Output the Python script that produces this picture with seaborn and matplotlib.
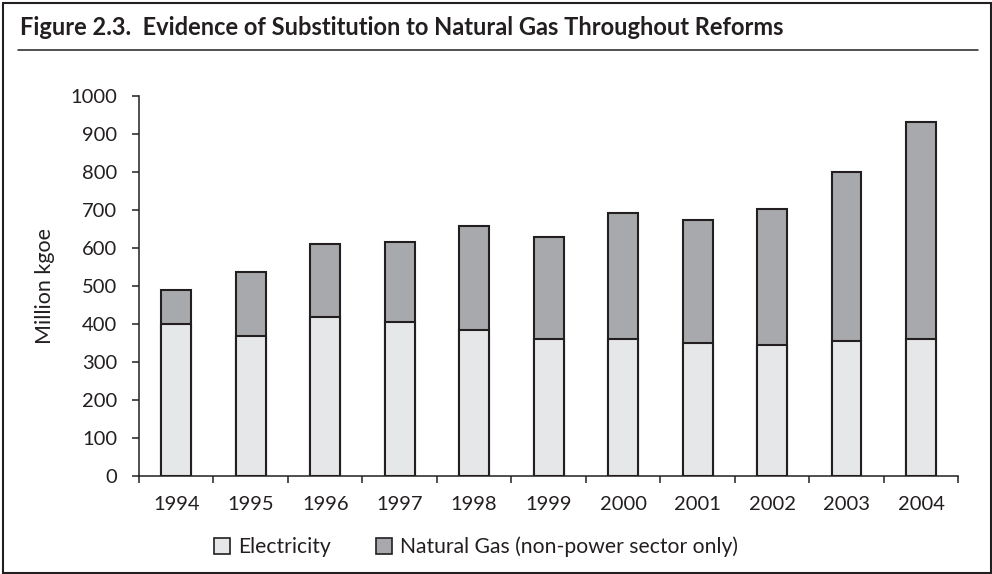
import matplotlib
matplotlib.use("Agg")
import matplotlib.pyplot as plt
import seaborn as sns
import pandas as pd
from matplotlib.patches import Patch, Rectangle
from matplotlib.lines import Line2D
from matplotlib.ticker import FixedLocator

# values (million kgoe)
years = ["1994", "1995", "1996", "1997", "1998", "1999", "2000", "2001", "2002", "2003", "2004"]
electricity = [398, 368, 418, 404, 383, 359, 359, 348, 344, 354, 359]
natural_gas = [92, 167, 191, 210, 275, 269, 332, 324, 358, 446, 572]

series_names = ["Electricity", "Natural Gas (non-power sector only)"]
yticks = [0, 100, 200, 300, 400, 500, 600, 700, 800, 900, 1000]

title = "Figure 2.3.  Evidence of Substitution to Natural Gas Throughout Reforms"

elec_color = "#e6e7e8"
gas_color = "#a7a9ac"
edge_color = "#231f20"

sns.set_style("ticks")
plt.rcParams["font.family"] = ["Lato", "DejaVu Sans"]
plt.rcParams["text.color"] = edge_color
plt.rcParams["axes.labelcolor"] = edge_color
plt.rcParams["xtick.color"] = edge_color
plt.rcParams["ytick.color"] = edge_color

df = pd.DataFrame({"year": years, "Electricity": electricity, "Gas": natural_gas})
df["Total"] = df["Electricity"] + df["Gas"]

W, H = 992, 574
fig = plt.figure(figsize=(W / 100, H / 100), dpi=100)
ax = fig.add_axes([139 / W, 1 - 475.7 / H, (958.3 - 139) / W, 380 / H])

# stacked bars: total first (gas colour), electricity drawn on top
sns.barplot(data=df, x="year", y="Total", color=gas_color, width=0.4,
            edgecolor=edge_color, linewidth=1.5, saturation=1, ax=ax)
sns.barplot(data=df, x="year", y="Electricity", color=elec_color, width=0.4,
            edgecolor=edge_color, linewidth=1.5, saturation=1, ax=ax)

ax.set_xlim(-0.5, len(years) - 0.5)
ax.set_ylim(0, 1000)
ax.set_yticks(yticks)
ax.set_xlabel("")
ax.set_ylabel("Million kgoe", fontsize=15.5)
ax.yaxis.set_label_coords(-0.103, 0.5)

ax.xaxis.set_minor_locator(FixedLocator([i - 0.5 for i in range(len(years) + 1)]))
ax.tick_params(axis="x", which="major", length=0, pad=14.5, labelsize=14.5)
ax.tick_params(axis="x", which="minor", length=5, width=1.1, direction="out")
ax.tick_params(axis="y", length=5, width=1.1, pad=10.5, labelsize=14.5)

sns.despine(ax=ax)
for side in ["left", "bottom"]:
    ax.spines[side].set_linewidth(1.1)
    ax.spines[side].set_color(edge_color)

handles = [Patch(facecolor=elec_color, edgecolor=edge_color, linewidth=1.2),
           Patch(facecolor=gas_color, edgecolor=edge_color, linewidth=1.2)]
fig.legend(handles, series_names, loc="center", bbox_to_anchor=(476 / W, 1 - 547 / H),
           ncol=2, frameon=False, fontsize=15.2, handlelength=0.78, handleheight=0.78,
           handletextpad=0.4, columnspacing=2.1)

t = fig.text(20 / W, 1 - 35 / H, title, fontsize=14, fontweight="bold",
             va="baseline", ha="left")
# fit the title to the width it takes in the reference (about 770 px)
fig.canvas.draw()
w = t.get_window_extent().width
t.set_fontsize(14 * 770 / w)

fig.add_artist(Line2D([18 / W, 978 / W], [1 - 50 / H, 1 - 50 / H], color=edge_color,
                      linewidth=1.1, transform=fig.transFigure))
fig.add_artist(Rectangle((3 / W, 1 / H), 988 / W, 570 / H, fill=False, edgecolor=edge_color,
                         linewidth=1.5, transform=fig.transFigure))

fig.savefig("out.png", dpi=100)
